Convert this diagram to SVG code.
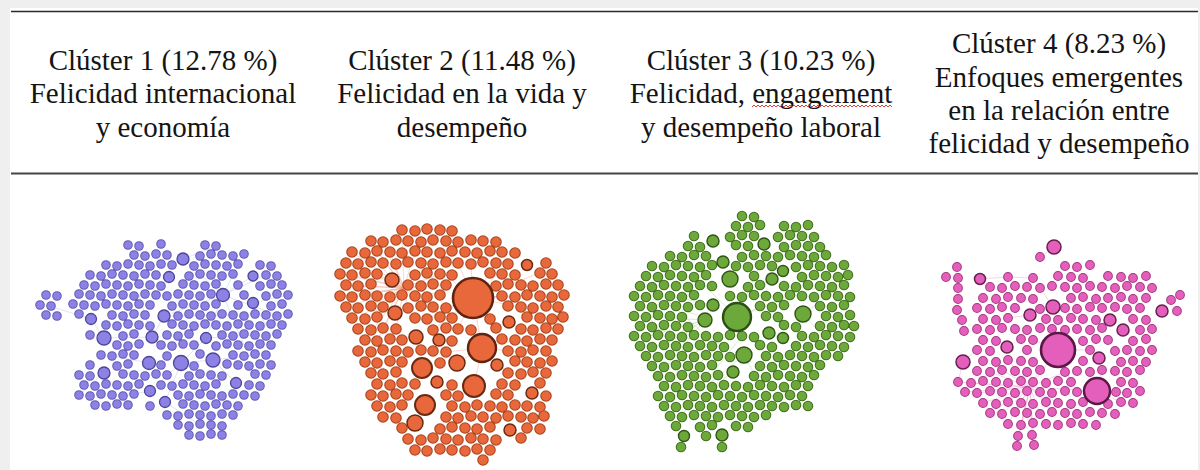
<svg xmlns="http://www.w3.org/2000/svg" width="1200" height="470" viewBox="0 0 1200 470">
<style>
.hd{font-family:"Liberation Serif","Times New Roman",serif;font-size:29px;fill:#141414;text-anchor:middle}
.rule{stroke:#2b2b2b;stroke-width:1.6}
.dots{fill:none;stroke-linecap:round}
.e{fill:none;stroke-width:.6}
.b1 circle{fill:#8c81e4;stroke:#4d4499;stroke-width:1.3}
.b2 circle{fill:#e9683b;stroke:#6a2a12;stroke-width:1.5}
.b3 circle{fill:#6ca83a;stroke:#2f5515;stroke-width:1.4}
.b4 circle{fill:#e35fbb;stroke:#66204f;stroke-width:1.5}
</style>
<defs>
<pattern id="wave" patternUnits="userSpaceOnUse" x="752" y="104" width="4" height="4"><path d="M0 3L2 1L4 3" fill="none" stroke="#d42a2a" stroke-width="0.9"/></pattern>
<path id="d1" d="M128 245h0M139 246h0M161 244h0M205 245h0M216 246h0
M134 255h0M145 256h0M156 254h0M167 255h0M200 256h0M211 254h0M222 255h0M233 256h0M244 254h0
M106 265h0M117 266h0M128 264h0M139 265h0M150 266h0M161 264h0M172 265h0M194 266h0M205 264h0M216 265h0M227 266h0M238 264h0M260 265h0M271 266h0
M90 275h0M101 276h0M112 274h0M123 275h0M134 276h0M145 274h0M156 275h0M189 276h0M200 274h0M211 275h0M222 276h0M233 274h0M266 275h0M277 276h0
M84 285h0M95 286h0M106 284h0M117 285h0M128 286h0M139 284h0M150 285h0M161 286h0M183 284h0M194 285h0M205 286h0M216 284h0M238 285h0M260 286h0M271 284h0M282 285h0
M46 295h0M57 296h0M79 294h0M90 295h0M101 296h0M112 294h0M123 295h0M134 296h0M145 294h0M156 295h0M167 296h0M178 294h0M189 295h0M200 296h0M211 294h0M244 295h0M266 296h0M277 294h0M288 295h0
M40 305h0M51 306h0M73 304h0M84 305h0M95 306h0M106 304h0M117 305h0M128 306h0M139 304h0M150 305h0M172 306h0M183 304h0M194 305h0M205 306h0M216 304h0M238 305h0M271 306h0M282 304h0
M46 315h0M57 316h0M79 314h0M112 315h0M123 316h0M134 314h0M145 315h0M178 316h0M189 314h0M200 315h0M211 316h0M222 314h0M233 315h0M244 316h0M255 314h0M266 315h0M277 316h0M288 314h0
M106 325h0M117 326h0M128 324h0M139 325h0M150 326h0M172 324h0M183 325h0M194 326h0M205 324h0M216 325h0M227 326h0M238 324h0M249 325h0M260 326h0M271 324h0M282 325h0
M90 335h0M123 336h0M134 334h0M167 335h0M178 336h0M189 334h0M222 335h0M233 336h0M244 334h0M255 335h0M266 336h0M277 334h0
M117 345h0M128 346h0M139 344h0M161 345h0M172 346h0M183 344h0M194 345h0M216 346h0M227 344h0M238 345h0M249 346h0M260 344h0M271 345h0
M101 355h0M112 356h0M123 354h0M134 355h0M167 356h0M200 354h0M233 355h0M244 356h0M255 354h0M266 355h0
M90 365h0M117 366h0M128 364h0M161 365h0M194 366h0M227 364h0M238 365h0M249 366h0M260 364h0M271 365h0
M79 375h0M90 376h0M123 374h0M134 375h0M145 376h0M156 374h0M167 375h0M189 376h0M200 374h0M211 375h0M222 376h0M255 374h0M266 375h0
M84 385h0M95 386h0M106 384h0M117 385h0M128 386h0M139 384h0M161 385h0M172 386h0M183 384h0M194 385h0M205 386h0M216 384h0M249 385h0M260 386h0
M79 395h0M90 396h0M101 394h0M112 395h0M123 396h0M134 394h0M178 395h0M189 396h0M200 394h0M211 395h0M222 396h0M233 394h0M244 395h0M255 396h0
M95 405h0M106 406h0M117 404h0M128 405h0M150 406h0M183 404h0M194 405h0M205 406h0M216 404h0M227 405h0M238 406h0
M167 415h0M178 416h0M189 414h0M200 415h0M211 416h0M222 414h0M233 415h0
M178 425h0M189 426h0M200 424h0M211 425h0M222 426h0
M189 435h0M200 436h0M211 434h0M222 435h0"/>
<path id="d2" d="M402 230h0M415 231h0M427 229h0M440 230h0M452 231h0
M371 241h0M383 242h0M396 240h0M408 241h0M421 242h0M433 240h0M446 241h0M458 242h0M471 240h0M483 241h0M496 242h0
M352 252h0M365 253h0M377 251h0M390 252h0M402 253h0M415 251h0M427 252h0M440 253h0M452 251h0M465 252h0M477 253h0M490 251h0M502 252h0M515 253h0
M346 263h0M358 264h0M371 262h0M383 263h0M396 264h0M408 262h0M421 263h0M433 264h0M446 262h0M458 263h0M471 264h0M483 262h0M496 263h0M508 264h0M546 263h0
M340 274h0M352 275h0M365 273h0M377 274h0M415 275h0M427 273h0M440 274h0M452 275h0M490 273h0M502 274h0M515 275h0M540 273h0M552 274h0
M346 285h0M358 286h0M371 284h0M408 285h0M421 286h0M433 284h0M446 285h0M496 286h0M508 284h0M521 285h0M533 286h0M546 284h0M558 285h0
M340 296h0M352 297h0M365 295h0M377 296h0M390 297h0M402 295h0M415 296h0M427 297h0M440 295h0M502 296h0M515 297h0M527 295h0M540 296h0M552 297h0M564 295h0
M346 307h0M358 308h0M371 306h0M383 307h0M408 308h0M421 306h0M433 307h0M446 308h0M508 306h0M521 307h0M533 308h0M546 306h0M558 307h0
M352 318h0M365 319h0M377 317h0M415 318h0M427 319h0M440 317h0M452 318h0M490 319h0M527 317h0M540 318h0M552 319h0M563 317h0
M358 329h0M371 330h0M383 328h0M396 329h0M433 330h0M446 328h0M458 329h0M471 330h0M496 328h0M521 329h0M533 330h0M546 328h0M558 329h0
M365 340h0M377 341h0M390 339h0M402 340h0M452 341h0M502 339h0M515 340h0M527 341h0M540 339h0M552 340h0
M358 351h0M371 352h0M383 350h0M396 351h0M408 352h0M421 350h0M433 351h0M446 352h0M508 351h0M521 352h0M533 350h0M546 351h0
M365 362h0M377 363h0M390 361h0M402 362h0M440 363h0M515 361h0M527 362h0M540 363h0M552 361h0
M371 373h0M383 374h0M396 372h0M508 373h0M521 374h0M533 372h0M546 373h0
M377 384h0M390 385h0M402 383h0M415 384h0M452 385h0M502 384h0M515 385h0M540 383h0
M371 395h0M383 396h0M396 394h0M408 395h0M446 395h0M458 396h0M496 394h0M508 395h0M546 396h0
M377 406h0M390 407h0M402 405h0M452 406h0M465 407h0M477 405h0M490 406h0M502 407h0M515 405h0M527 406h0M540 407h0
M383 417h0M396 418h0M446 417h0M458 418h0M471 416h0M483 417h0M496 418h0M508 416h0M521 417h0M533 418h0M544 416h0
M402 428h0M440 429h0M452 427h0M465 428h0M477 429h0M490 427h0M527 428h0M540 429h0
M408 439h0M421 440h0M433 438h0M446 439h0M458 440h0M471 438h0M483 439h0M496 440h0M521 438h0
M415 450h0M427 451h0M440 449h0M452 450h0M465 451h0M477 449h0M490 450h0
M483 460h0"/>
<path id="d3" d="M742 216h0M754 217h0
M736 226h0M748 227h0M760 225h0M784 226h0M796 227h0M808 225h0
M694 236h0M730 237h0M742 235h0M754 236h0M778 237h0M790 235h0M802 236h0M814 237h0
M688 246h0M700 247h0M736 245h0M748 246h0M784 247h0M796 245h0M808 246h0M820 247h0
M670 256h0M682 257h0M694 255h0M706 256h0M742 257h0M754 255h0M766 256h0M778 257h0M790 255h0M802 256h0M814 257h0M826 255h0
M652 266h0M664 267h0M676 265h0M688 266h0M700 267h0M712 265h0M736 266h0M748 267h0M760 265h0M772 266h0M796 267h0M808 265h0M820 266h0M832 267h0M844 265h0
M646 276h0M658 277h0M670 275h0M682 276h0M694 277h0M706 275h0M754 276h0M802 277h0M814 275h0M826 276h0M838 277h0M848 275h0
M640 286h0M652 287h0M664 285h0M676 286h0M688 287h0M700 285h0M712 286h0M748 287h0M760 285h0M784 286h0M796 287h0M808 285h0M820 286h0M832 287h0M844 285h0
M634 296h0M646 297h0M658 295h0M670 296h0M682 297h0M694 295h0M730 296h0M742 297h0M754 295h0M766 296h0M778 297h0M790 295h0M802 296h0M814 297h0M826 295h0M838 296h0M850 297h0
M640 306h0M652 307h0M664 305h0M676 306h0M688 307h0M700 305h0M760 306h0M772 307h0M784 305h0M820 306h0M832 307h0M844 305h0
M634 316h0M646 317h0M658 315h0M670 316h0M682 317h0M766 316h0M778 317h0M826 316h0M838 317h0M850 315h0
M640 326h0M652 327h0M664 325h0M676 326h0M688 327h0M784 325h0M796 327h0M820 326h0M832 327h0M844 325h0M854 326h0
M634 336h0M646 337h0M658 335h0M670 336h0M682 337h0M694 335h0M706 336h0M718 337h0M730 335h0M742 336h0M754 337h0M802 336h0M814 337h0M826 335h0M838 336h0M850 337h0
M640 346h0M652 347h0M664 345h0M676 346h0M688 347h0M700 345h0M712 346h0M724 347h0M760 345h0M772 347h0M796 346h0M808 347h0M820 345h0M832 346h0M844 347h0
M646 356h0M658 357h0M670 355h0M682 356h0M694 357h0M706 355h0M718 356h0M730 357h0M766 356h0M778 357h0M790 355h0M802 356h0M814 357h0M826 355h0M838 356h0
M652 366h0M664 367h0M676 365h0M688 366h0M700 367h0M712 365h0M760 366h0M772 367h0M784 365h0M796 366h0M808 367h0M820 365h0
M658 376h0M670 377h0M682 375h0M694 376h0M706 377h0M718 375h0M754 376h0M766 377h0M778 375h0M790 376h0M802 377h0M814 375h0
M664 386h0M676 387h0M688 385h0M700 386h0M712 387h0M724 385h0M736 386h0M748 387h0M760 385h0M772 386h0M784 387h0M796 385h0M808 386h0
M658 396h0M670 397h0M682 395h0M694 396h0M706 397h0M718 395h0M730 396h0M742 397h0M754 395h0M766 396h0M778 397h0M790 395h0M802 396h0
M664 406h0M676 407h0M688 405h0M700 406h0M712 407h0M724 405h0M736 406h0M748 407h0M760 405h0M772 406h0M784 407h0M796 405h0M808 406h0
M670 416h0M682 417h0M694 415h0M706 416h0M718 417h0M730 415h0M742 416h0M754 417h0M766 415h0
M676 426h0M700 427h0M712 425h0M736 426h0M748 427h0
M706 436h0M681 447h0M722 447h0"/>
<path id="d4" d="M1040 257h0
M957 267h0M1065 266h0M1077 267h0M1090 265h0
M946 277h0M958 278h0M1008 277h0M1033 278h0M1058 276h0M1071 277h0M1083 278h0M1108 276h0M1121 277h0M1133 278h0M1146 276h0
M958 288h0M990 287h0M1002 288h0M1015 286h0M1027 287h0M1040 288h0M1052 286h0M1065 287h0M1077 288h0M1090 286h0M1102 287h0M1115 288h0M1127 286h0M1140 287h0M1152 288h0
M958 299h0M983 298h0M996 299h0M1008 297h0M1021 298h0M1033 299h0M1071 298h0M1083 297h0M1096 299h0M1108 298h0M1121 297h0M1133 299h0M1146 298h0M1171 300h0M1180 295h0
M957 310h0M977 308h0M990 309h0M1002 307h0M1015 308h0M1040 309h0M1065 308h0M1077 309h0M1090 307h0M1102 308h0M1115 307h0M1127 309h0M1140 308h0M1177 311h0
M962 320h0M983 319h0M996 320h0M1008 318h0M1046 319h0M1058 320h0M1071 318h0M1083 319h0M1096 320h0M1133 319h0M1146 320h0
M964 331h0M977 329h0M990 330h0M1002 328h0M1015 329h0M1027 330h0M1040 328h0M1052 329h0M1065 330h0M1077 329h0M1090 330h0M1102 328h0M1140 330h0M1152 329h0
M983 340h0M996 341h0M1021 339h0M1033 340h0M1083 341h0M1096 339h0M1108 340h0M1133 341h0M1146 339h0
M977 350h0M990 351h0M1027 350h0M1090 350h0M1115 351h0M1127 350h0M1140 351h0M1152 350h0
M983 361h0M996 362h0M1008 360h0M1021 361h0M1033 362h0M1083 361h0M1121 362h0M1133 361h0M1146 362h0
M977 371h0M990 372h0M1002 370h0M1015 371h0M1027 372h0M1040 370h0M1065 372h0M1077 371h0M1090 372h0M1102 370h0M1115 371h0M1127 372h0M1140 370h0
M958 382h0M971 383h0M983 381h0M996 382h0M1008 383h0M1021 381h0M1033 382h0M1046 383h0M1058 381h0M1071 382h0M1121 382h0M1133 383h0
M965 392h0M977 393h0M990 391h0M1002 392h0M1015 393h0M1027 391h0M1040 392h0M1052 393h0M1065 391h0M1077 392h0M1116 392h0M1127 393h0M1140 391h0
M983 403h0M996 404h0M1008 402h0M1021 403h0M1033 404h0M1046 402h0M1058 403h0M1071 404h0M1083 402h0M1108 404h0M1121 402h0M1133 403h0
M990 413h0M1002 414h0M1015 412h0M1027 413h0M1040 414h0M1052 412h0M1065 413h0M1077 414h0M1090 412h0M1102 413h0M1115 414h0
M1008 424h0M1021 425h0M1033 423h0M1046 424h0M1058 425h0M1071 423h0M1083 424h0M1096 425h0
M1018 436h0M1032 435h0M1017 446h0M1034 445h0"/>
</defs>
<rect width="1200" height="470" fill="#ffffff"/>
<rect width="1200" height="8" fill="#efefef"/>
<rect width="10" height="470" fill="#efefef"/>
<rect x="1198" y="0" width="2" height="470" fill="#efefef"/>
<g id="table-rules">
<line class="rule" x1="11" y1="11.5" x2="1198" y2="11.5"/>
<line class="rule" x1="11" y1="173.5" x2="1198" y2="173.5" style="stroke:#444;stroke-width:2"/>
</g>
<g id="header-1">
<text class="hd" x="163" y="69.5">Clúster 1 (12.78 %)</text>
<text class="hd" x="163" y="103">Felicidad internacional</text>
<text class="hd" x="163" y="136.5">y economía</text>
</g>
<g id="header-2">
<text class="hd" x="462" y="69.5">Clúster 2 (11.48 %)</text>
<text class="hd" x="462" y="103">Felicidad en la vida y</text>
<text class="hd" x="462" y="136.5">desempeño</text>
</g>
<g id="header-3">
<text class="hd" x="761" y="69.5">Clúster 3 (10.23 %)</text>
<text class="hd" x="761" y="103">Felicidad, engagement</text>
<text class="hd" x="761" y="136.5">y desempeño laboral</text>
<rect x="752" y="104" width="140" height="4" fill="url(#wave)"/>
</g>
<g id="header-4">
<text class="hd" x="1059" y="53">Clúster 4 (8.23 %)</text>
<text class="hd" x="1059" y="86.5">Enfoques emergentes</text>
<text class="hd" x="1059" y="120">en la relación entre</text>
<text class="hd" x="1059" y="153">felicidad y desempeño</text>
</g>
<g id="connectors">
<path class="e" stroke="#c5bff2" opacity="0.8" d="M223 295L183 259M223 295L253 276M223 295L164 316M223 295L206 338M223 295L266 275M223 295L277 315M223 295L238 265M223 295L244 345M181 363L213 360M181 363L150 391M181 363L206 338M104 338L91 319M104 338L152 337M164 316L152 337M213 360L236 383M213 360L255 355M181 363L165 402M165 402L200 425M150 391L123 396M223 295L216 265M253 303L288 295M253 303L266 325M183 259L216 246M152 337L139 295M104 373L79 395M91 319L46 305M164 316L233 315M206 338L255 335M149 363L112 356"/>
<path class="e" stroke="#ee8c68" opacity="0.6" d="M404 288L352 252M404 288L365 253M404 288L377 251M404 288L340 274M404 288L352 275M404 288L346 263M404 288L358 264M404 288L340 296M404 288L346 285M404 288L352 297M404 288L358 286M404 288L346 307M404 288L365 295M404 288L358 318M404 288L371 306M404 288L377 317M404 288L365 340M404 288L383 328M404 288L390 252M404 288L402 241M404 288L415 251M404 288L427 263M404 288L440 274M404 288L446 285M404 288L421 286M404 288L427 297M404 288L440 295M404 288L433 307M404 288L421 306M404 288L408 308M404 288L396 329M404 288L377 341M404 288L371 241M404 288L383 242M404 288L352 330M473 298L433 264M473 298L458 263M473 298L471 264M473 298L496 263M473 298L508 264M473 298L502 296M473 298L515 297M473 298L490 319M473 298L521 307M473 298L496 328M473 298L446 308M473 298L452 318M473 298L527 295M473 298L540 273M473 298L427 319M473 298L433 330M473 298L458 329M473 298L482 348M482 348L502 339M482 348L515 340M482 348L446 352M482 348L508 373M482 348L521 352M482 348L457 363M482 348L474 386"/>
<path class="e" stroke="#b5d497" opacity="0.75" d="M646 297L700 316M652 327L712 346M658 346L706 316M664 366L730 336M676 386L718 346M640 306L688 366M670 396L700 346M682 416L712 366M694 396L742 336M700 426L724 386M652 286L706 336M664 316L724 346M688 327L676 376M737 317L790 295M737 317L820 286M737 317L760 265M803 314L844 285M803 314L832 346M737 317L694 276M705 320L646 337M705 320L658 376M713 305L670 296M744 355L694 396M744 355L766 396M733 372L688 405M705 320L634 316M705 320L664 345"/>
<path class="e" stroke="#f1a3d6" opacity="0.8" d="M1030 387L983 403M1030 387L996 404M1030 387L1002 414M1030 387L1015 412M1030 387L1018 436M1030 387L1032 435M1030 387L1017 446M1030 387L1034 445M1030 387L990 413M1030 387L1040 414M1030 387L1052 412M1030 387L1008 424M1030 387L1021 425M1030 387L965 392M1030 387L977 393M1030 387L958 382M1030 387L971 383M1030 387L1058 350M1030 387L1097 391M1030 387L990 372M1030 387L1002 370M1030 387L1040 370M1030 387L1065 372M1030 387L1008 360M1030 387L1046 402M1030 387L1058 403M1058 350L1052 329M1058 350L1090 350M1058 350L1071 382M1058 350L1033 340M1058 350L1065 330M1097 391L1127 393M1097 391L1121 402M1097 391L1115 414M1097 391L1077 392M1097 391L1102 370M980 279L1008 277L1033 278M1054 247L1040 257M1053 307L1040 288M1053 307L1083 319M963 362L958 382M963 362L977 350M1030 315L1008 318"/>
</g>
<g id="cluster-1">
<use href="#d1" class="dots" stroke="#6259b3" stroke-width="9.6"/>
<use href="#d1" class="dots" stroke="#8c81e4" stroke-width="7.6"/>
<g class="b1">
<circle cx="223" cy="295" r="6.5"/><circle cx="104" cy="338" r="7"/><circle cx="91" cy="319" r="5.5"/><circle cx="181" cy="363" r="7.5"/><circle cx="213" cy="360" r="7"/><circle cx="149" cy="363" r="6.5"/><circle cx="152" cy="337" r="6"/><circle cx="206" cy="338" r="5.5"/><circle cx="164" cy="316" r="6"/><circle cx="183" cy="259" r="6"/><circle cx="253" cy="303" r="5.5"/><circle cx="236" cy="383" r="5.5"/><circle cx="104" cy="373" r="6"/><circle cx="169" cy="277" r="5.5"/><circle cx="253" cy="276" r="5"/><circle cx="150" cy="391" r="5.5"/><circle cx="165" cy="402" r="5.5"/>
</g>
</g>
<g id="cluster-2">
<use href="#d2" class="dots" stroke="#a8461f" stroke-width="11.6"/>
<use href="#d2" class="dots" stroke="#e9683b" stroke-width="9.4"/>
<g class="b2">
<circle cx="473" cy="298" r="20" style="stroke-width:2.6;stroke:#5e2410"/><circle cx="482" cy="348" r="14" style="stroke-width:2.4;stroke:#5e2410"/><circle cx="422" cy="368" r="10" style="stroke-width:2"/><circle cx="474" cy="386" r="11" style="stroke-width:2"/><circle cx="425" cy="405" r="10" style="stroke-width:2"/><circle cx="415" cy="423" r="8"/><circle cx="457" cy="363" r="8"/><circle cx="395" cy="313" r="7"/><circle cx="392" cy="280" r="7"/><circle cx="416" cy="337" r="7"/><circle cx="509" cy="322" r="6"/><circle cx="527" cy="265" r="5.5"/><circle cx="532" cy="393" r="6"/><circle cx="510" cy="430" r="6"/><circle cx="439" cy="340" r="6"/><circle cx="437" cy="382" r="6"/><circle cx="497" cy="365" r="6"/>
</g>
</g>
<g id="cluster-3">
<use href="#d3" class="dots" stroke="#437220" stroke-width="10.6"/>
<use href="#d3" class="dots" stroke="#6ca83a" stroke-width="8.6"/>
<g class="b3">
<circle cx="737" cy="317" r="14" style="stroke-width:2.4;stroke:#2c4f13"/><circle cx="730" cy="279" r="8"/><circle cx="744" cy="355" r="8"/><circle cx="803" cy="314" r="8"/><circle cx="705" cy="320" r="7"/><circle cx="764" cy="244" r="6"/><circle cx="713" cy="241" r="6"/><circle cx="723" cy="262" r="6"/><circle cx="772" cy="279" r="6"/><circle cx="713" cy="305" r="6"/><circle cx="769" cy="333" r="6"/><circle cx="783" cy="338" r="5.5"/><circle cx="733" cy="372" r="6"/><circle cx="783" cy="271" r="5.5"/><circle cx="722" cy="435" r="6"/><circle cx="684" cy="436" r="5.5"/>
</g>
</g>
<g id="cluster-4">
<use href="#d4" class="dots" stroke="#a3377f" stroke-width="9.8"/>
<use href="#d4" class="dots" stroke="#e35fbb" stroke-width="7.8"/>
<g class="b4">
<circle cx="1058" cy="350" r="17" style="stroke-width:2.6;stroke:#5b1846"/><circle cx="1097" cy="391" r="13" style="stroke-width:2.4;stroke:#5b1846"/><circle cx="1054" cy="247" r="7"/><circle cx="963" cy="362" r="7"/><circle cx="1053" cy="307" r="7"/><circle cx="1110" cy="320" r="6"/><circle cx="1123" cy="330" r="6"/><circle cx="1162" cy="311" r="6"/><circle cx="1030" cy="315" r="6"/><circle cx="1099" cy="358" r="6"/><circle cx="1007" cy="347" r="6"/><circle cx="980" cy="279" r="5.5"/>
</g>
</g>
</svg>
